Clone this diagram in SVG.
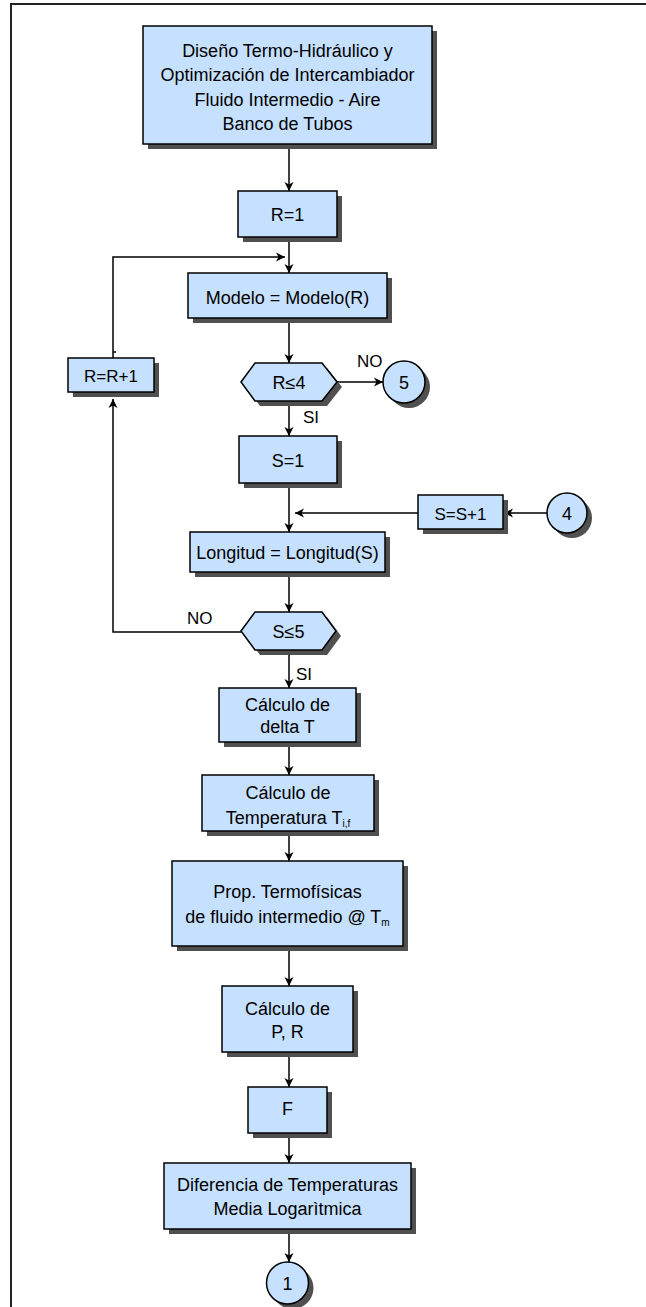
<svg xmlns="http://www.w3.org/2000/svg" width="646" height="1307" viewBox="0 0 646 1307">
<defs>
<marker id="arr" markerUnits="userSpaceOnUse" markerWidth="12" markerHeight="12" viewBox="-10 -6 12 12" refX="0" refY="0" orient="auto">
<path d="M-9,-4.5 L0,0 L-9,4.5 L-6.5,0 z" fill="#000"/>
</marker>
</defs>
<style>
.box{fill:#C6E1FF;stroke:#000;stroke-width:1.5}
.sh{fill:#505050}
.t{font-family:"Liberation Sans",Arial,sans-serif;font-size:18px;fill:#000;text-anchor:middle}
.s{font-size:17px}
.lbl{font-family:"Liberation Sans",Arial,sans-serif;font-size:17px;fill:#000}
.sub{font-size:10px}
.c{fill:none;stroke:#000;stroke-width:1.5}
.ca{fill:none;stroke:#000;stroke-width:1.5;marker-end:url(#arr)}
.frame{fill:none;stroke:#222;stroke-width:2}
</style>
<rect width="646" height="1307" fill="#fff"/>
<path class="frame" d="M11,1307 L11,4 L646,4"/>

<g id="connectors">
<line class="ca" x1="289" y1="144" x2="289" y2="191"/>
<line class="ca" x1="289" y1="237" x2="289" y2="273"/>
<line class="ca" x1="289" y1="318" x2="289" y2="363"/>
<line class="ca" x1="337" y1="382" x2="383" y2="382"/>
<line class="ca" x1="289" y1="401" x2="289" y2="436"/>
<line class="ca" x1="289" y1="483" x2="289" y2="532"/>
<line class="ca" x1="547" y1="513" x2="504" y2="513"/>
<line class="ca" x1="418" y1="513" x2="295" y2="513"/>
<line class="ca" x1="289" y1="572" x2="289" y2="612"/>
<polyline class="ca" points="241,632 113,632 113,399"/>
<polyline class="ca" points="113,358 113,257 285,257"/>
<line class="c" x1="113" y1="352" x2="116" y2="352"/>
<line class="ca" x1="289" y1="650" x2="289" y2="688"/>
<line class="ca" x1="289" y1="742" x2="289" y2="775"/>
<line class="ca" x1="289" y1="831" x2="289" y2="861"/>
<line class="ca" x1="289" y1="946" x2="289" y2="986"/>
<line class="ca" x1="289" y1="1052" x2="289" y2="1087"/>
<line class="ca" x1="289" y1="1133" x2="289" y2="1163"/>
<line class="ca" x1="289" y1="1229" x2="289" y2="1262"/>
<text class="lbl" x="357" y="367">NO</text>
<text class="lbl" x="303" y="423">SI</text>
<text class="lbl" x="187" y="624">NO</text>
<text class="lbl" x="296" y="680">SI</text>
</g>

<g id="title">
<rect class="sh" x="148" y="31" width="289" height="118"/>
<rect class="box" x="143" y="26" width="289" height="118"/>
<text class="t" x="287.5" y="56.5">Diseño Termo-Hidráulico y</text>
<text class="t" x="287.5" y="81">Optimización de Intercambiador</text>
<text class="t" x="287.5" y="105.5">Fluido Intermedio - Aire</text>
<text class="t" x="287.5" y="129.5">Banco de Tubos</text>
</g>

<g id="r1">
<rect class="sh" x="243" y="196" width="99" height="46"/>
<rect class="box" x="238" y="191" width="99" height="46"/>
<text class="t" x="287.5" y="221">R=1</text>
</g>

<g id="modelo">
<rect class="sh" x="193" y="278" width="199" height="45"/>
<rect class="box" x="188" y="273" width="199" height="45"/>
<text class="t" x="287.5" y="303.5">Modelo = Modelo(R)</text>
</g>

<g id="dec-r">
<polygon class="sh" points="246,387 260,368 327,368 342,387 327,406 260,406"/>
<polygon class="box" points="241,382 255,363 322,363 337,382 322,401 255,401"/>
<text class="t" x="289" y="388.5">R≤4</text>
</g>

<g id="c5">
<circle class="sh" cx="409" cy="387" r="21"/>
<circle class="box" cx="404" cy="382" r="21"/>
<text class="t" x="404" y="388.5">5</text>
</g>

<g id="rr1">
<rect class="sh" x="73" y="363" width="86" height="34"/>
<rect class="box" x="68" y="358" width="86" height="34"/>
<text class="t s" x="111" y="381.5">R=R+1</text>
</g>

<g id="s1">
<rect class="sh" x="244" y="441" width="98" height="47"/>
<rect class="box" x="239" y="436" width="98" height="47"/>
<text class="t" x="288" y="466.5">S=1</text>
</g>

<g id="ss1">
<rect class="sh" x="423" y="500" width="85" height="34"/>
<rect class="box" x="418" y="495" width="85" height="34"/>
<text class="t s" x="460.5" y="519.5">S=S+1</text>
</g>

<g id="c4">
<circle class="sh" cx="572" cy="518" r="20"/>
<circle class="box" cx="567" cy="513" r="20"/>
<text class="t" x="567" y="519.5">4</text>
</g>

<g id="longitud">
<rect class="sh" x="195" y="537" width="195" height="40"/>
<rect class="box" x="190" y="532" width="195" height="40"/>
<text class="t" x="287.5" y="558.5">Longitud = Longitud(S)</text>
</g>

<g id="dec-s">
<polygon class="sh" points="246,636 260,617 327,617 341,636 327,655 260,655"/>
<polygon class="box" points="241,631 255,612 322,612 336,631 322,650 255,650"/>
<text class="t" x="288.5" y="637.5">S≤5</text>
</g>

<g id="deltat">
<rect class="sh" x="224" y="693" width="137" height="54"/>
<rect class="box" x="219" y="688" width="137" height="54"/>
<text class="t" x="287.5" y="710.5">Cálculo de</text>
<text class="t" x="287.5" y="733">delta T</text>
</g>

<g id="temp">
<rect class="sh" x="207" y="780" width="172" height="56"/>
<rect class="box" x="202" y="775" width="172" height="56"/>
<text class="t" x="288" y="799">Cálculo de</text>
<text class="t" x="288" y="823.5">Temperatura T<tspan class="sub" dy="3">i,f</tspan></text>
</g>

<g id="prop">
<rect class="sh" x="177" y="866" width="231" height="85"/>
<rect class="box" x="172" y="861" width="231" height="85"/>
<text class="t" x="287.5" y="898">Prop. Termofísicas</text>
<text class="t" x="287.5" y="922.5">de fluido intermedio @ T<tspan class="sub" dy="3">m</tspan></text>
</g>

<g id="pr">
<rect class="sh" x="227" y="991" width="131" height="66"/>
<rect class="box" x="222" y="986" width="131" height="66"/>
<text class="t" x="287.5" y="1014.5">Cálculo de</text>
<text class="t" x="287.5" y="1038">P, R</text>
</g>

<g id="f">
<rect class="sh" x="253" y="1092" width="79" height="46"/>
<rect class="box" x="248" y="1087" width="79" height="46"/>
<text class="t" x="287.5" y="1114.5">F</text>
</g>

<g id="dtml">
<rect class="sh" x="169" y="1168" width="247" height="66"/>
<rect class="box" x="164" y="1163" width="247" height="66"/>
<text class="t" x="287.5" y="1190.5">Diferencia de Temperaturas</text>
<text class="t" x="287.5" y="1214.5">Media Logarìtmica</text>
</g>

<g id="c1">
<circle class="sh" cx="292.5" cy="1288" r="21"/>
<circle class="box" cx="287.5" cy="1283" r="21"/>
<text class="t" x="287.5" y="1289.5">1</text>
</g>
</svg>
